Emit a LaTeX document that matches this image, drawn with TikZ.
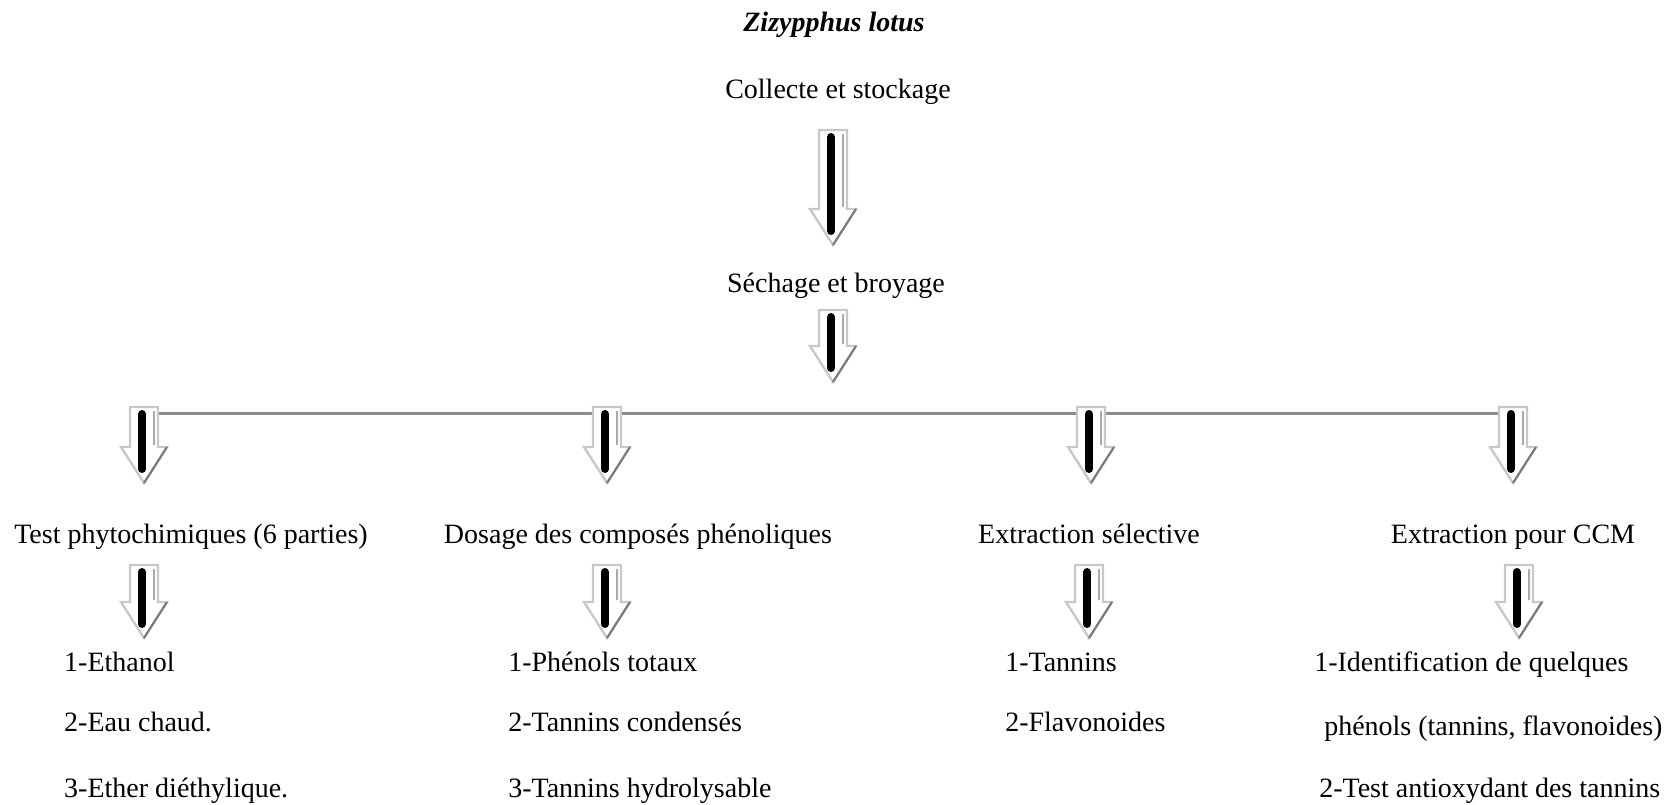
\documentclass[tikz,border=0pt]{standalone}
\usepackage{fontspec}
\setmainfont{Liberation Serif}
\tikzset{every picture/.style={line width=0.75pt}}
\tikzset{
  txt/.style={inner sep=0.75pt, text height=1.6ex, text depth=0.45ex, font=\fontsize{14}{16}\selectfont},
  lst/.style={txt, anchor=west},
  bar/.style={draw={rgb, 255:red, 140; green, 140; blue, 140}, line width=1.5pt},
  pics/fatarrow/.style={code={
    \draw [draw={rgb, 255:red, 200; green, 200; blue, 200}, fill=white, line width=1.2pt] (-14,0) -- (14,0) -- (14,-#1+36) -- (23,-#1+36) -- (0,-#1) -- (-23,-#1+36) -- (-14,-#1+36) -- cycle ;
    \draw [draw={rgb, 255:red, 170; green, 170; blue, 170}, line width=0.6pt] (10,-4) -- (10,-#1+38) ;
    \draw [draw={rgb, 255:red, 120; green, 120; blue, 120}, line width=1pt] (23,-#1+36) -- (0,-#1) ;
    \draw [line width=4pt, line cap=round] (-2,-7) -- (-2,-#1+14) ;
  }}
}
\begin{document}
\begin{tikzpicture}[x=0.5pt,y=0.5pt,yscale=-1,xscale=1]
\useasboundingbox (0,0) rectangle (1677,804);

% Text Node
\node [txt, font=\fontsize{14}{16}\selectfont\bfseries\itshape] (plant) at (834,26) {Zizypphus lotus};
% Text Node
\node [txt] (collecte) at (838,93) {Collecte et stockage};
% Text Node
\node [txt] (sechage) at (836,287) {Séchage et broyage};

% Text Node
\node [txt] (test) at (191,538) {Test phytochimiques (6 parties)};
% Text Node
\node [txt] (dosage) at (638,538) {Dosage des composés phénoliques};
% Text Node
\node [txt] (selective) at (1089,538) {Extraction sélective};
% Text Node
\node [txt] (ccm) at (1513,538) {Extraction pour CCM};

% main arrows
\coordinate (m1) at (833,130);
\coordinate (m2) at (833,310);
\pic at (m1) {fatarrow=115};
\pic at (m2) {fatarrow=72};

% branch line
\coordinate (b1) at (144,413);
\coordinate (b2) at (607,413);
\coordinate (b3) at (1091,413);
\coordinate (b4) at (1513,413);
\draw [bar] (b1) -- (b4) ;
\pic at ([yshift=-3]b1) {fatarrow=76};
\pic at ([yshift=-3]b2) {fatarrow=76};
\pic at ([yshift=-3]b3) {fatarrow=76};
\pic at ([yshift=-3]b4) {fatarrow=76};

% second row arrows
\coordinate (s1) at (144,565);
\coordinate (s2) at (607,565);
\coordinate (s3) at (1089,565);
\coordinate (s4) at (1519,565);
\pic at (s1) {fatarrow=73};
\pic at (s2) {fatarrow=73};
\pic at (s3) {fatarrow=73};
\pic at (s4) {fatarrow=73};

% Text Node
\node [lst] (t1) at (62,666) {1-Ethanol};
\node [lst] (t2) at (62,726) {2-Eau chaud.};
\node [lst] (t3) at (62,792) {3-Ether diéthylique.};
% Text Node
\node [lst] (d1) at (506,666) {1-Phénols totaux};
\node [lst] (d2) at (506,726) {2-Tannins condensés};
\node [lst] (d3) at (506,792) {3-Tannins hydrolysable};
% Text Node
\node [lst] (e1) at (1003,666) {1-Tannins};
\node [lst] (e2) at (1003,726) {2-Flavonoides};
% Text Node
\node [lst] (c1) at (1312,666) {1-Identification de quelques};
\node [lst] (c2) at (1322,730) {phénols (tannins, flavonoides)};
\node [lst] (c3) at (1317,792) {2-Test antioxydant des tannins};

\end{tikzpicture}
\end{document}
